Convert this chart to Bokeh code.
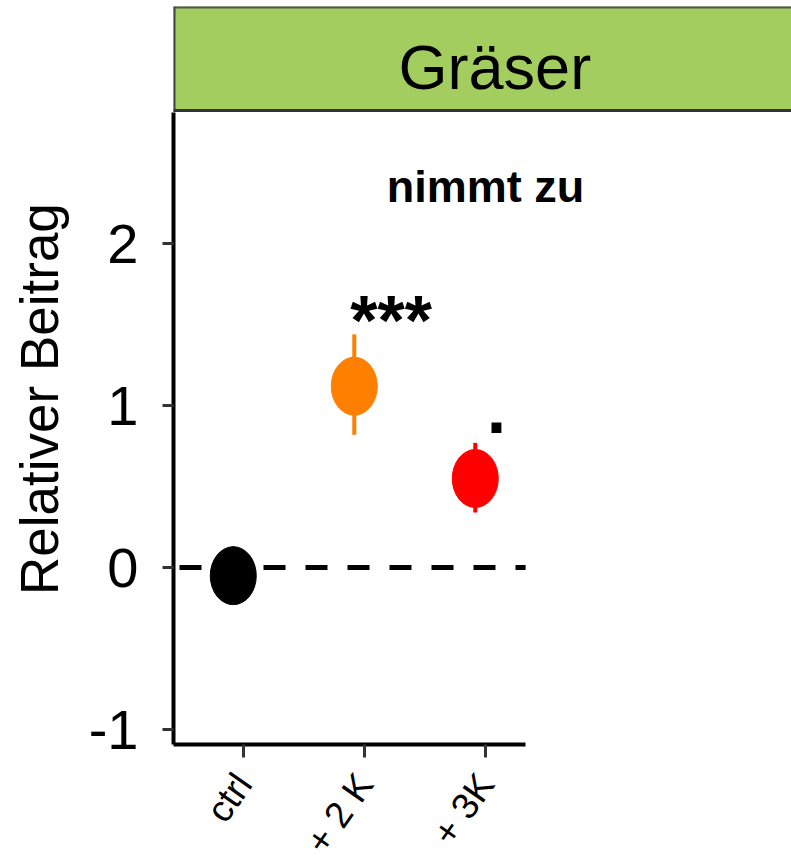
import math
from bokeh.plotting import figure
from bokeh.models import Range1d, FixedTicker, Label, ColumnDataSource
from bokeh.layouts import column
from bokeh.embed import file_html
from bokeh.resources import INLINE

# ---- data ----
facet_label = "Gräser"
panel_note = "nimmt zu"
y_title = "Relativer Beitrag"
categories = ["ctrl", "+ 2 K", "+ 3K"]
estimate = [-0.05, 1.12, 0.55]
lower = [-0.20, 0.82, 0.34]
upper = [0.13, 1.44, 0.77]
signif = ["", "***", "."]
colors = ["#000000", "#FF8000", "#FF0000"]
y_ticks = [-1, 0, 1, 2]
y_tick_labels = ["-1", "0", "1", "2"]

# ---- layout / style ----
FONT = "Liberation Sans"
dodge = -0.085
sig_dx = [0.0, 0.22, 0.09]
sig_dy = [0.0, 0.08, 0.21]
X_START, X_END, AXIS_END = 1 - 0.579, 1 - 0.579 + 618 / 121, 3.331
Y_START, Y_END = -1.08 - 2 / 162, 2.81

xs = list(range(1, len(categories) + 1))
xd = [x + dodge for x in xs]

# strip figure
strip = figure(frame_width=618, frame_height=106, x_range=Range1d(0, 1), y_range=Range1d(0, 1),
               toolbar_location=None, output_backend="svg",
               min_border_top=6, min_border_left=173, min_border_right=0, min_border_bottom=0)
strip.xaxis.visible = False
strip.yaxis.visible = False
strip.grid.visible = False
strip.background_fill_color = "#A3CD5E"
strip.border_fill_color = "white"
strip.outline_line_color = None
# strip border: top, left, bottom (right side runs off the picture)
strip.segment(x0=[0, 0, 0], y0=[1, 0, 0], x1=[1, 0, 1], y1=[1, 1, 0],
              line_color=["#555555", "#444444", "#333333"], line_width=[4, 4, 7])
strip.add_layout(Label(x=0.52, y=0.425, text=facet_label, text_font=FONT, text_font_size="63px",
                       text_align="center", text_baseline="middle", text_color="black"))

# main figure
p = figure(frame_width=618, frame_height=632, x_range=Range1d(X_START, X_END),
           y_range=Range1d(Y_START, Y_END),
           toolbar_location=None, output_backend="svg",
           min_border_left=173, min_border_right=0, min_border_top=0, min_border_bottom=100)
p.grid.visible = False
p.outline_line_color = None
p.background_fill_color = "white"
p.border_fill_color = "white"

# zero reference line (only across the panel)
p.segment(x0=[X_START], y0=[0], x1=[AXIS_END], y1=[0], line_color="black", line_width=5,
          line_dash="22 20", line_dash_offset=-6)

src = ColumnDataSource(dict(x=xd, y=estimate, lo=lower, hi=upper, color=colors))
p.segment(x0="x", y0="lo", x1="x", y1="hi", line_color="color", line_width=4, source=src)
p.ellipse(x="x", y="y", width=46, height=58, width_units="screen", height_units="screen",
          fill_color="color", line_color="color", source=src)

sx = [x + d for x, d in zip(xs, sig_dx)]
sy = [h + d for h, d in zip(upper, sig_dy)]
p.text(x=sx, y=sy, text=signif, text_font={"value": FONT}, text_font_size="70px",
       text_font_style="bold", text_align="center", text_baseline="alphabetic", text_color="black")

p.add_layout(Label(x=xs[-1], y=2.356, text=panel_note, text_font=FONT, text_font_size="45px",
                   text_font_style="bold", text_align="center", text_baseline="alphabetic",
                   text_color="black"))

# axes
for ax in (p.xaxis[0], p.yaxis[0]):
    ax.axis_line_width = 4
    ax.axis_line_color = "black"
    ax.major_tick_line_width = 3
    ax.major_tick_line_color = "#333333"
    ax.minor_tick_line_color = None
    ax.major_tick_in = 0
    ax.major_label_text_font = FONT
    ax.major_label_text_color = "black"

p.yaxis.ticker = FixedTicker(ticks=y_ticks)
p.yaxis.major_label_overrides = {t: l for t, l in zip(y_ticks, y_tick_labels)}
p.yaxis.major_tick_out = 11
p.yaxis.major_label_text_font_size = "56px"
p.yaxis.major_label_standoff = 24
# leading no-break spaces lift the title a little above the panel centre, as in the original
p.yaxis.axis_label = "\u00a0" * 4 + y_title
p.yaxis.axis_label_text_font = FONT
p.yaxis.axis_label_text_font_size = "53px"
p.yaxis.axis_label_text_font_style = "normal"
p.yaxis.axis_label_text_color = "black"
p.yaxis.axis_label_standoff = 17

p.xaxis.bounds = (X_START, AXIS_END)
p.xaxis.ticker = FixedTicker(ticks=xs)
p.xaxis.major_label_overrides = {x: c for x, c in zip(xs, categories)}
p.xaxis.major_tick_out = 13
p.xaxis.major_label_text_font_size = "37px"
p.xaxis.major_label_orientation = 0.96
p.xaxis.major_label_standoff = 20

layout = column(strip, p, spacing=0)
open("out.html", "w").write(file_html(layout, INLINE))
